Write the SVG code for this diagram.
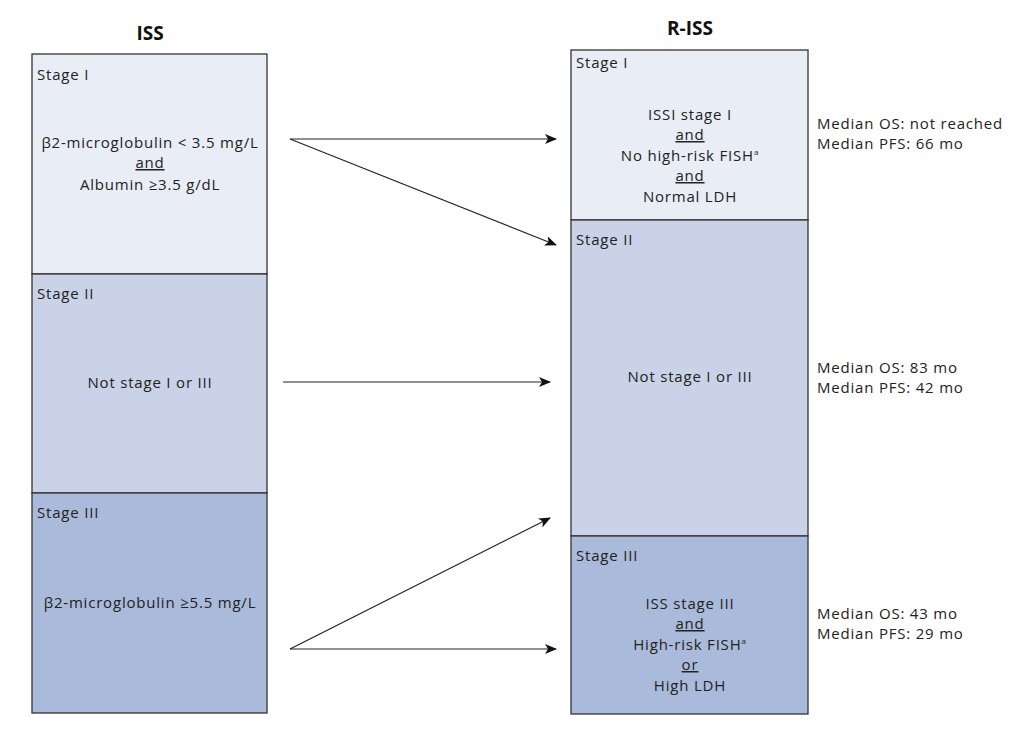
<svg xmlns="http://www.w3.org/2000/svg" width="1024" height="734" viewBox="0 0 1024 734">
<defs>
<marker id="ah" markerWidth="12" markerHeight="10" refX="11" refY="5" orient="auto" markerUnits="userSpaceOnUse">
<path d="M0,0 L12,5 L0,10 L3,5 Z" fill="#111"/>
</marker>
<style>
text{font-family:"Open Sans","Noto Sans","Liberation Sans",sans-serif;font-size:15px;letter-spacing:0.8px;fill:#222;}
.t{font-weight:bold;font-size:19px;letter-spacing:0;text-anchor:middle;fill:#111;}
.c{text-anchor:middle;}
.u{text-decoration:underline;}
.s1{fill:#E9EDF6;stroke:#333;stroke-width:1.3;}
.s2{fill:#C9D2E6;stroke:#333;stroke-width:1.3;}
.s3{fill:#AABADA;stroke:#333;stroke-width:1.3;}
.ln{stroke:#222;stroke-width:1.2;fill:none;marker-end:url(#ah);}
</style>
</defs>
<rect width="1024" height="734" fill="#fff"/>
<text class="t" x="150" y="40">ISS</text>
<text class="t" x="690" y="35">R-ISS</text>

<g id="iss-stage1">
<rect class="s1" x="32" y="54" width="235" height="220"/>
<text x="37" y="80">Stage I</text>
<text class="c" x="150" y="148">β2-microglobulin &lt; 3.5 mg/L</text>
<text class="c u" x="150" y="168">and</text>
<text class="c" x="150" y="190">Albumin ≥3.5 g/dL</text>
</g>
<g id="iss-stage2">
<rect class="s2" x="32" y="274" width="235" height="219"/>
<text x="37" y="299">Stage II</text>
<text class="c" x="150" y="388">Not stage I or III</text>
</g>
<g id="iss-stage3">
<rect class="s3" x="32" y="493" width="235" height="220"/>
<text x="37" y="518">Stage III</text>
<text class="c" x="150" y="608">β2-microglobulin ≥5.5 mg/L</text>
</g>

<g id="riss-stage1">
<rect class="s1" x="571" y="50" width="237" height="170"/>
<text x="576" y="68">Stage I</text>
<text class="c" x="690" y="120">ISSI stage I</text>
<text class="c u" x="690" y="140">and</text>
<text class="c" x="690" y="161">No high-risk FISH<tspan font-size="8" dy="-6">a</tspan></text>
<text class="c u" x="690" y="181">and</text>
<text class="c" x="690" y="202">Normal LDH</text>
</g>
<g id="riss-stage2">
<rect class="s2" x="571" y="220" width="237" height="316"/>
<text x="576" y="245">Stage II</text>
<text class="c" x="690" y="382">Not stage I or III</text>
</g>
<g id="riss-stage3">
<rect class="s3" x="571" y="536" width="237" height="178"/>
<text x="576" y="561">Stage III</text>
<text class="c" x="690" y="609">ISS stage III</text>
<text class="c u" x="690" y="629">and</text>
<text class="c" x="690" y="650">High-risk FISH<tspan font-size="8" dy="-6">a</tspan></text>
<text class="c u" x="690" y="670">or</text>
<text class="c" x="690" y="691">High LDH</text>
</g>

<g id="outcomes">
<text x="817" y="129">Median OS: not reached</text>
<text x="817" y="149">Median PFS: 66 mo</text>
<text x="817" y="373">Median OS: 83 mo</text>
<text x="817" y="393">Median PFS: 42 mo</text>
<text x="817" y="619">Median OS: 43 mo</text>
<text x="817" y="639">Median PFS: 29 mo</text>
</g>

<g id="connectors">
<line class="ln" x1="290" y1="139" x2="556" y2="139"/>
<line class="ln" x1="290" y1="139" x2="556" y2="245"/>
<line class="ln" x1="283" y1="382" x2="550" y2="382"/>
<line class="ln" x1="290" y1="649" x2="550" y2="518"/>
<line class="ln" x1="290" y1="649" x2="556" y2="649"/>
</g>
</svg>
